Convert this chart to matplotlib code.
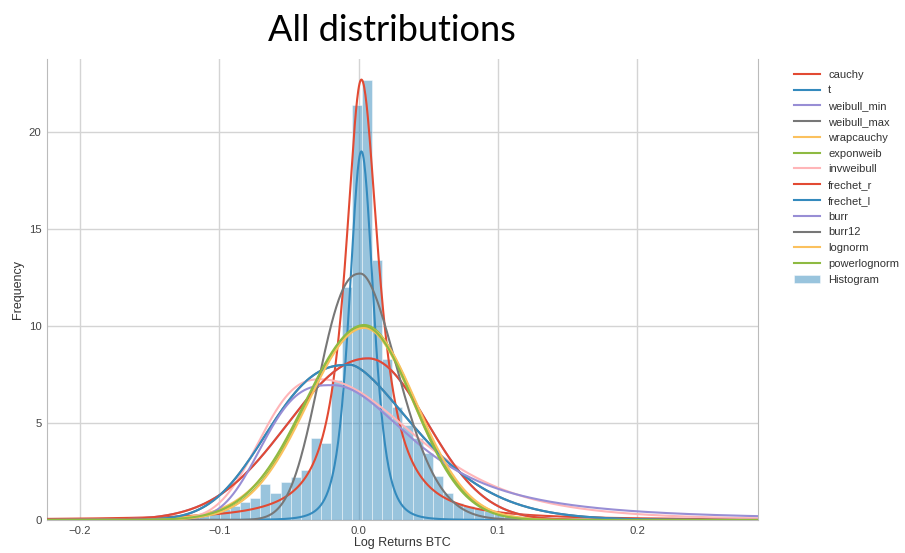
import numpy as np
import matplotlib
matplotlib.use("Agg")
import matplotlib.pyplot as plt

# 直方图：70 个等宽区间覆盖 x 轴范围，高度为密度
x_min, x_max = -0.2237, 0.2867
hist_heights = [
    0.09, 0, 0, 0, 0, 0, 0, 0.09, 0, 0,
    0.09, 0.15, 0.18, 0.18, 0.27, 0.27, 0.37, 0.55, 0.7, 0.95,
    1.15, 1.85, 1.4, 1.98, 2.23, 2.6, 4.25, 3.97, 7.2, 12.0,
    21.4, 22.7, 13.4, 8.3, 5.8, 4.9, 4.2, 3.45, 2.25, 1.4,
    0.9, 0.72, 0.6, 0.48, 0.35, 0.27, 0.18, 0.27, 0.15, 0.09,
    0.09, 0, 0, 0.09, 0, 0, 0, 0.09, 0, 0,
    0, 0, 0, 0, 0, 0, 0, 0, 0, 0.09,
]

# 拟合曲线：名称、颜色，以及从图上读出的峰位置/峰高/左右宽度/形状
dist_names = ["cauchy", "t", "weibull_min", "weibull_max", "wrapcauchy",
              "exponweib", "invweibull", "frechet_r", "frechet_l", "burr",
              "burr12", "lognorm", "powerlognorm"]
dist_colors = ["#E24A33", "#348ABD", "#988ED5", "#777777", "#FBC15E",
               "#8EBA42", "#FFB5B8", "#E24A33", "#348ABD", "#988ED5",
               "#777777", "#FBC15E", "#8EBA42"]
peak_x = [0.002, 0.002, 0.007, -0.0057, 0.004,
          0.004, -0.027, 0.007, -0.0057, -0.0186,
          0.0015, 0.0045, 0.0035]
peak_y = [22.7, 19.0, 8.33, 8.0, 9.9,
          10.05, 7.25, 8.33, 8.0, 6.95,
          12.7, 9.95, 10.0]
left_w = [0.0135, 0.009, 0.057, 0.057, 0.042,
          0.041, 0.042, 0.057, 0.057, 0.048,
          0.0287, 0.041, 0.042]
right_w = [0.0145, 0.009, 0.042, 0.045, 0.036,
           0.0365, 0.071, 0.042, 0.045, 0.065,
           0.0265, 0.037, 0.036]
left_pow = [2, 2, 2.1, 2.6, 2, 2, 2.6, 2.1, 2.6, 3, 2.5, 2, 2]
right_pow = [2, 2, 2, 1.55, 2, 2, 2, 2, 1.55, 2, 1.8, 2, 2]
left_nu = [1.2, 4, 1e4, 1e4, 30, 1e4, 1e4, 1e4, 1e4, 1e4, 1e4, 1e4, 1e4]
right_nu = [1.2, 4, 1e4, 1e4, 30, 1e4, 4, 1e4, 1e4, 1.7, 1e4, 1e4, 1e4]


def curve(x, m, h, sl, sr, pl, pr, nl, nr):
    # 左右两侧宽度不同的 t 型曲线
    left = x < m
    s = np.where(left, sl, sr)
    p = np.where(left, pl, pr)
    nu = np.where(left, nl, nr)
    z = np.abs(x - m) / s
    return h * np.exp(-(nu + 1) / 2 * np.log1p(z ** p / nu))


plt.rcParams['font.family'] = ['Liberation Sans', 'DejaVu Sans']
fig = plt.figure(figsize=(9.05, 5.53), dpi=100)
ax = fig.add_axes([0.0519, 0.0597, 0.7857, 0.8336])

# 直方图
bw = (x_max - x_min) / len(hist_heights)
edges = x_min + bw * np.arange(len(hist_heights))
ax.bar(edges, hist_heights, width=bw, align='edge', color='#348ABD', alpha=0.5,
       edgecolor='white', linewidth=0.6, label='Histogram', zorder=2)

# 各分布曲线
xs = np.linspace(x_min, x_max, 1200)
for i, name in enumerate(dist_names):
    ys = curve(xs, peak_x[i], peak_y[i], left_w[i], right_w[i],
               left_pow[i], right_pow[i], left_nu[i], right_nu[i])
    ax.plot(xs, ys, color=dist_colors[i], lw=1.5, label=name, zorder=3)

ax.set_xlim(x_min, x_max)
ax.set_ylim(0, 23.76)
ax.set_xticks([-0.2, -0.1, 0.0, 0.1, 0.2])
ax.set_yticks([0, 5, 10, 15, 20])
ax.grid(True, color='#d4d4d4', linewidth=1.0, zorder=0)
ax.set_axisbelow(True)
ax.tick_params(length=0, labelsize=8.2, colors='#444444', pad=4)
for side in ['left', 'right', 'bottom']:
    ax.spines[side].set_color('#bbbbbb')
ax.spines['top'].set_visible(False)
ax.set_xlabel('Log Returns BTC', fontsize=9, color='#333333', labelpad=1)
ax.set_ylabel('Frequency', fontsize=9, color='#333333', labelpad=3)

fig.legend(loc='upper left', bbox_to_anchor=(0.877, 0.874), frameon=False,
           fontsize=8, handlelength=2.4, handletextpad=0.7,
           labelspacing=0.52, borderaxespad=0, borderpad=0,
           labelcolor='#333333')

fig.text(0.433, 0.945, 'All distributions', ha='center', va='center',
         fontsize=26, family=['Lato', 'DejaVu Sans'])

fig.savefig('out.png', dpi=100)
